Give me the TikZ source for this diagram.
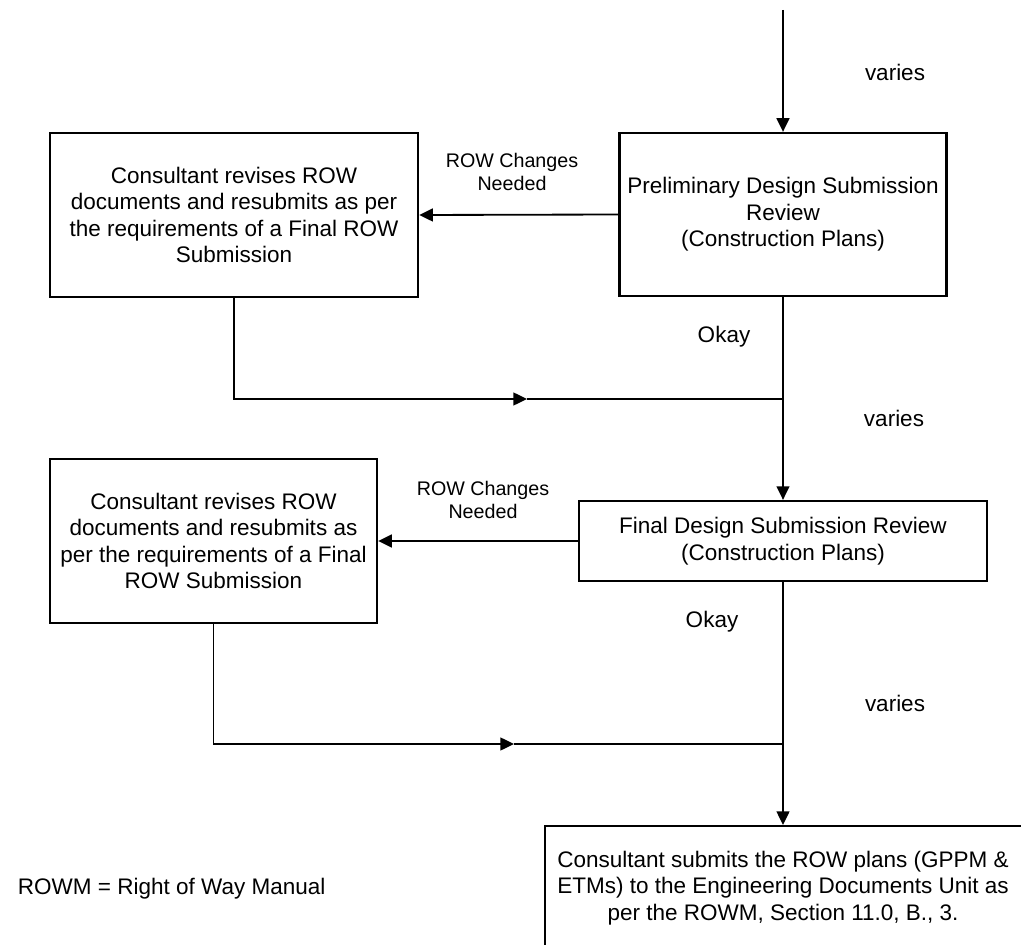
\documentclass[tikz,border=0pt]{standalone}
\usepackage{fontspec}
\setmainfont{Liberation Sans}
\usetikzlibrary{arrows.meta,positioning}
\tikzstyle{process} = [rectangle, draw=black, line width=1.6pt, align=center, font=\fontsize{16}{18.9}\selectfont]
\tikzstyle{note} = [align=center, font=\fontsize{16}{18.9}\selectfont]
\tikzstyle{smallnote} = [align=center, font=\fontsize{14}{17}\selectfont]
\tikzstyle{link} = [line width=1.3pt, color=black]
\tikzstyle{arrow} = [link, -{Triangle[length=0.34cm,width=0.32cm]}]

\begin{document}
\begin{tikzpicture}[x=0.025cm, y=-0.025cm]
\useasboundingbox (0,0) rectangle (1021,945);
\clip (0,0) rectangle (1021,945);
% Boxes
\node (prelim) [process, minimum width=8.175cm, minimum height=4.075cm] at (783,214.5) {Preliminary Design Submission\\Review\\(Construction Plans)};
\node (rev1) [process, minimum width=9.2cm, minimum height=4.1cm] at (234,215) {Consultant revises ROW\\documents and resubmits as per\\the requirements of a Final ROW\\Submission};
\node (final) [process, minimum width=10.2cm, minimum height=2cm] at (783,541) {Final Design Submission Review\\(Construction Plans)};
\node (rev2) [process, minimum width=8.175cm, minimum height=4.1cm] at (213.5,541) {Consultant revises ROW\\documents and resubmits as\\per the requirements of a Final\\ROW Submission};
\node (submit) [process, anchor=north west, minimum width=15cm, minimum height=5cm] at (544,825) {};
\node (submittxt) [note] at (783,888) {Consultant submits the ROW plans (GPPM \&\\ETMs) to the Engineering Documents Unit as\\per the ROWM, Section 11.0, B., 3.};
% Labels
\node (varies1) [note] at (895,72) {varies};
\node (change1) [smallnote] at (512,172) {ROW Changes\\Needed};
\node (okay1) [note] at (724,337) {Okay};
\node (varies2) [note] at (894,418) {varies};
\node (change2) [smallnote] at (483,500) {ROW Changes\\Needed};
\node (okay2) [note] at (712,622) {Okay};
\node (varies3) [note] at (895,703) {varies};
\node (legend) [note, anchor=west] at (13,889) {ROWM = Right of Way Manual};
% Connectors
\coordinate (start) at (783,10);
\coordinate (mid1) at (527,399);
\coordinate (join1) at (783,399);
\coordinate (mid2) at (514,744);
\coordinate (join2) at (783,744);
\draw[arrow] (start) -- (prelim.north);
\draw[arrow] (prelim.west) -- (rev1.east);
\draw[arrow] (rev1.south) |- (mid1);
\draw[link] (mid1) -- (join1);
\draw[arrow] (prelim.south) -- (final.north);
\draw[arrow] (final.west) -- (rev2.east);
\draw[arrow] (rev2.south) |- (mid2);
\draw[link] (mid2) -- (join2);
\draw[arrow] (final.south) -- (final.south |- submit.north);
\end{tikzpicture}
\end{document}
